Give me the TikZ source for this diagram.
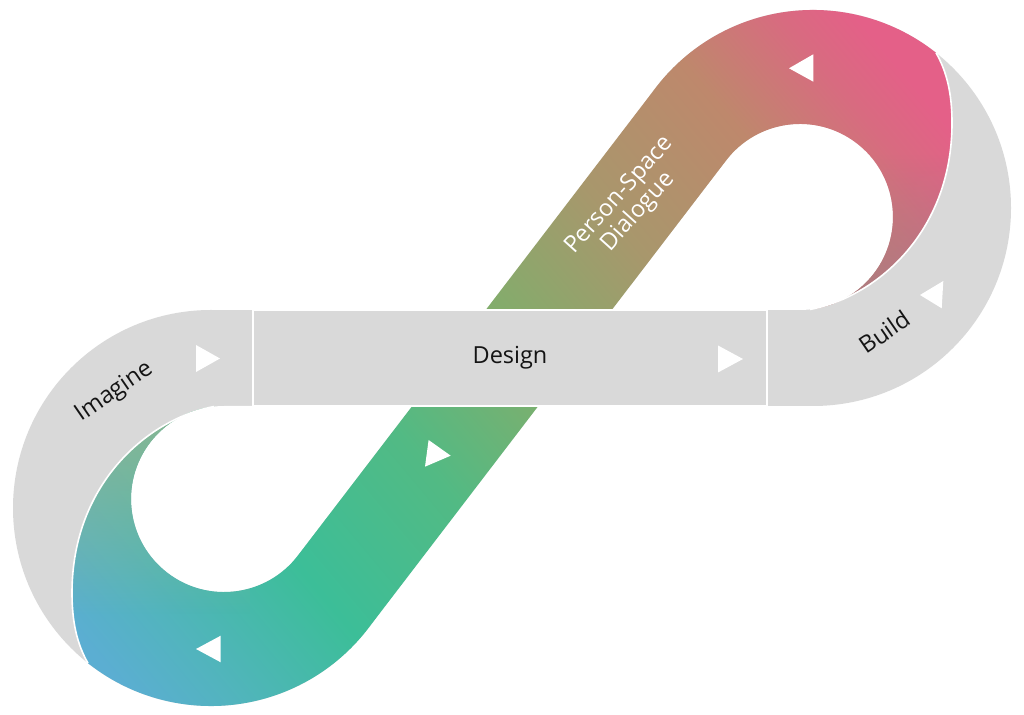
\documentclass[tikz,border=0pt]{standalone}
\usepackage{fontspec}
\setmainfont{Open Sans}
\usetikzlibrary{fadings}
\definecolor{graybg}{HTML}{D9D9D9}
\definecolor{cA}{HTML}{5BAED2}
\definecolor{cB}{HTML}{52B4BE}
\definecolor{cC}{HTML}{3CBE98}
\definecolor{cD}{HTML}{52BA84}
\definecolor{cE}{HTML}{80AE6C}
\definecolor{cF}{HTML}{A8976C}
\definecolor{cG}{HTML}{BE886C}
\definecolor{cH}{HTML}{D86B80}
\definecolor{cI}{HTML}{E46088}
\definecolor{tintL}{HTML}{9AB494}
\definecolor{tintR}{HTML}{A9738C}
\pgfdeclarehorizontalshading{ribbonshade}{100bp}{color(0bp)=(cA); color(25bp)=(cA); color(28.7bp)=(cB); color(35.4bp)=(cC); color(43.4bp)=(cD); color(50.4bp)=(cE); color(58.2bp)=(cF); color(65.7bp)=(cG); color(70.8bp)=(cH); color(73.7bp)=(cI); color(100bp)=(cI)}
\tikzfading[name=fadeL, top color=transparent!15, bottom color=transparent!100]
\tikzfading[name=fadeR, bottom color=transparent!25, top color=transparent!100]
\def\ribbonpath{(214.3,307.5) .. controls (150,296) and (72,232) .. (72,121) .. controls (72,92) and (77,70) .. (88,50.8) arc[start angle=231.6, end angle=322.6, radius=198] -- (726.1,553.5) arc[start angle=142.6, end angle=-84, radius=93] .. controls (874,416) and (952,480) .. (952,591) .. controls (952,620) and (947,642) .. (936,661.2) arc[start angle=51.6, end angle=142.6, radius=198] -- (297.9,158.5) arc[start angle=-37.4, end angle=-264, radius=93] -- cycle}
\tikzset{
  lbl/.style={font=\fontsize{23.5}{25}\selectfont, text=black!92, inner sep=0pt},
  twistedge/.style={draw=white, line width=1.6pt},
  arrowtri/.style={fill=white},
  barbox/.style={rectangle, fill=graybg, draw=white, line width=1.6pt, minimum width=514pt, minimum height=96pt, inner sep=0pt}
}
\begin{document}
\begin{tikzpicture}[x=1pt,y=1pt]
\fill[white] (0,0) rectangle (1024,714);
\useasboundingbox (0,0) rectangle (1024,714);
% grey back side of the ribbon
\fill[graybg] (211,206) circle[radius=198];
\fill[graybg] (813,506) circle[radius=198];
\fill[graybg] (211,308) rectangle (813,404);
% holes
\fill[white] (224,308) -- (412.2,308) -- (297.9,158.5) arc[start angle=-37.4, end angle=-270, radius=93] -- cycle;
\fill[white] (800,404) -- (611.8,404) -- (726.1,553.5) arc[start angle=142.6, end angle=-90, radius=93] -- cycle;
% coloured front side
\begin{scope}
\clip \ribbonpath;
\shade[shading=ribbonshade, shading angle=40] (0,-156) rectangle (1024,868);
\fill[tintL, path fading=fadeL] (0,100) rectangle (250,310);
\fill[tintR, path fading=fadeR] (780,400) rectangle (1024,560);
\end{scope}
\draw[twistedge] (214.3,307.5) .. controls (150,296) and (72,232) .. (72,121) .. controls (72,92) and (77,70) .. (88,50.8);
\draw[twistedge] (809.7,404.5) .. controls (874,416) and (952,480) .. (952,591) .. controls (952,620) and (947,642) .. (936,661.2);
% design bar
\node[barbox, lbl] (design) at (510,356) {Design};
% arrow triangles
\fill[arrowtri] (196,369) -- (196,342) -- (220,355.5) -- cycle;
\fill[arrowtri] (718,368.5) -- (718,341.5) -- (743,355) -- cycle;
\fill[arrowtri] (428.6,274) -- (425,247.3) -- (450.7,258.3) -- cycle;
\fill[arrowtri] (196,65) -- (220.7,78.3) -- (220.7,51.7) -- cycle;
\fill[arrowtri] (789,645.7) -- (813.3,659.7) -- (813.3,632.3) -- cycle;
\fill[arrowtri] (920,419) -- (943.3,433) -- (941.7,405.7) -- cycle;
% labels
\node[lbl, rotate=34.5, anchor=base] (imagine) at (118,317) {Imagine};
\node[lbl, rotate=34.5, anchor=base] (build) at (889.5,375) {Build};
\node[lbl, text=white, rotate=48, align=center] (psd) at (629,510) {Person-Space\\Dialogue};
\end{tikzpicture}
\end{document}
